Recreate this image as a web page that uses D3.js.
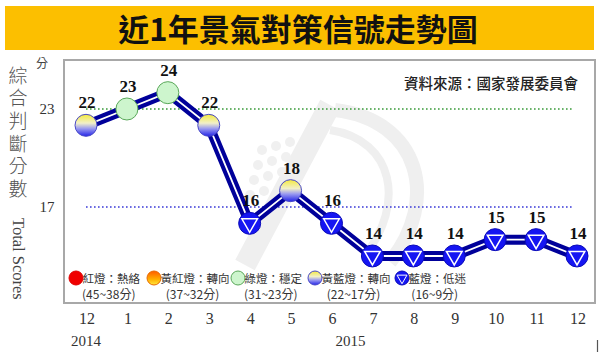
<!DOCTYPE html>
<html><head><meta charset="utf-8">
<script src="https://cdn.jsdelivr.net/npm/d3@7"></script>
<style>
html,body{margin:0;padding:0;background:#fff;}
svg{display:block;}
</style></head>
<body>
<svg id="chart" width="600" height="355"></svg>
<script>
// ---- data ----
const months = ["12","1","2","3","4","5","6","7","8","9","10","11","12"];
const scores = [22,23,24,22,16,18,16,14,14,14,15,15,14];
const lights = ["yb","g","g","yb","b","yb","b","b","b","b","b","b","b"];
const years = [{label:"2014", month:0},{label:"2015", month:6}];
const refLines = [23,17];
const yTicks = [23,17];
const legendNames = ["紅燈：熱絡","黃紅燈：轉向","綠燈：穩定","黃藍燈：轉向","藍燈：低迷"];
const legendRanges = ["(45~38分)","(37~32分)","(31~23分)","(22~17分)","(16~9分)"];
const legendTypes = ["r","yr","g","yb","b"];
const titleText = "近1年景氣對策信號走勢圖";
const sourceText = "資料來源：國家發展委員會";
const yTitleText = "綜合判斷分數";

const svg = d3.select("#chart");
const CJK = "'Noto Sans CJK TC','Noto Sans CJK SC',sans-serif";
const SERIF = "'Liberation Serif','DejaVu Serif',serif";

// gradients
const defs = svg.append("defs");
const gyb = defs.append("linearGradient").attr("id","gyb").attr("x1",0).attr("y1",0).attr("x2",0).attr("y2",1);
gyb.append("stop").attr("offset","0%").attr("stop-color","#f4ea3c");
gyb.append("stop").attr("offset","40%").attr("stop-color","#f2f0c8");
gyb.append("stop").attr("offset","65%").attr("stop-color","#9a9af0");
gyb.append("stop").attr("offset","100%").attr("stop-color","#2222e8");
const gyr = defs.append("linearGradient").attr("id","gyr").attr("x1",0).attr("y1",0).attr("x2",0).attr("y2",1);
gyr.append("stop").attr("offset","0%").attr("stop-color","#ff5a00");
gyr.append("stop").attr("offset","60%").attr("stop-color","#ffb000");
gyr.append("stop").attr("offset","100%").attr("stop-color","#ffe840");

// title bar
svg.append("rect").attr("x",5).attr("y",6).attr("width",589).attr("height",44).attr("fill","#fcbf00");
svg.append("text").attr("x",298).attr("y",41).attr("text-anchor","middle")
  .attr("font-family",CJK).attr("font-weight",700).attr("font-size",31).attr("fill","#111").text(titleText);

// scales
const x = d3.scalePoint().domain(d3.range(months.length)).range([86,577]);
const y = d3.scaleLinear().domain([10,26]).range([321.3,60]);

// watermark
const wm = svg.append("g").attr("fill","none").attr("stroke","#efefef");
wm.append("path").attr("d","M245,265 L330,105").attr("stroke-width",22);
wm.append("path").attr("d","M335,110 C420,120 440,200 390,262").attr("stroke-width",14);
wm.append("path").attr("d","M330,130 C395,140 405,205 365,255").attr("stroke-width",8);
const dots = [[262,150],[276,146],[290,142],[258,165],[272,161],[286,157],[254,180],[268,176],[282,172],[250,195],[264,191]];
svg.append("g").selectAll("circle").data(dots).join("circle")
  .attr("cx",d=>d[0]).attr("cy",d=>d[1]).attr("r",5).attr("fill","#f0f0f0");

// frame
svg.append("rect").attr("x",64).attr("y",60).attr("width",531).attr("height",243)
  .attr("fill","none").attr("stroke","#a8a8a8").attr("stroke-width",2);

// reference lines
svg.selectAll("line.ref").data(refLines).join("line").attr("class","ref")
  .attr("x1",x(0)).attr("x2",x(12)-4).attr("y1",d=>y(d)).attr("y2",d=>y(d))
  .attr("stroke",(d,i)=>i===0?"#3a9a3a":"#3a3ad8").attr("stroke-width",1.6).attr("stroke-dasharray","1.6,2.4");

// y ticks
svg.selectAll("text.yt").data(yTicks).join("text").attr("class","yt")
  .attr("x",47).attr("y",d=>y(d)+5).attr("text-anchor","middle")
  .attr("font-family",SERIF).attr("font-size",15).attr("fill","#333").text(d=>d);
svg.append("text").attr("x",42).attr("y",68).attr("text-anchor","middle")
  .attr("font-family",CJK).attr("font-size",12).attr("fill","#444").text("分");

// y title (vertical)
svg.append("text").attr("x",18).attr("y",66)
  .style("writing-mode","vertical-rl").style("letter-spacing","3.6px")
  .attr("font-family",CJK).attr("font-weight",300).attr("font-size",19).attr("fill","#555").text(yTitleText);
svg.append("text").attr("transform","translate(13,218) rotate(90)")
  .attr("font-family",SERIF).attr("font-size",16.5).attr("fill","#444").text("Total Scores");

// x axis labels
svg.selectAll("text.xt").data(months).join("text").attr("class","xt")
  .attr("x",(d,i)=>x(i)+1).attr("y",324).attr("text-anchor","middle")
  .attr("font-family",SERIF).attr("font-size",16).attr("fill","#333").text(d=>d);
svg.selectAll("text.yr").data(years).join("text").attr("class","yr")
  .attr("x",d=>x(d.month)+(d.month===0?0:19)).attr("y",346).attr("text-anchor","middle")
  .attr("font-family",SERIF).attr("font-size",15).attr("fill","#333").text(d=>d.label);
svg.append("line").attr("x1",597.5).attr("x2",597.5).attr("y1",340).attr("y2",352).attr("stroke","#555").attr("stroke-width",1.2);

// line
const line = d3.line().x((d,i)=>x(i)).y(d=>y(d));
svg.append("path").attr("d",line(scores)).attr("fill","none").attr("stroke","#00009a")
  .attr("stroke-width",10).attr("stroke-linejoin","round");
svg.append("path").attr("d",line(scores)).attr("fill","none").attr("stroke","#ffffff")
  .attr("stroke-width",1.8).attr("stroke-linejoin","round");

// marker drawing
function drawMarker(g, type, r){
  if(type==="b"){
    g.append("circle").attr("r",r).attr("fill","#1515f2").attr("stroke","#0a0ab8").attr("stroke-width",1);
    const k = r*0.82;
    const pts = [[-k*0.866,-k*0.5],[k*0.866,-k*0.5],[0,k]];
    g.append("path").attr("d","M"+pts.map(p=>p.join(",")).join("L")+"Z")
      .attr("fill","none").attr("stroke","#fff").attr("stroke-width",r>8?1.5:1);
  } else if(type==="yb"){
    g.append("circle").attr("r",r).attr("fill","url(#gyb)").attr("stroke","#4848c8").attr("stroke-width",1);
  } else if(type==="g"){
    g.append("circle").attr("r",r).attr("fill","#cdf5cd").attr("stroke","#5aa85a").attr("stroke-width",1);
  } else if(type==="r"){
    g.append("circle").attr("r",r).attr("fill","#f00000").attr("stroke","#e00000").attr("stroke-width",1);
  } else if(type==="yr"){
    g.append("circle").attr("r",r).attr("fill","url(#gyr)").attr("stroke","#e86a00").attr("stroke-width",1);
  }
}

const pts = svg.selectAll("g.pt").data(scores).join("g").attr("class","pt")
  .attr("transform",(d,i)=>`translate(${x(i)},${y(d)})`);
pts.each(function(d,i){ drawMarker(d3.select(this), lights[i], 11); });

// value labels
svg.selectAll("text.vl").data(scores).join("text").attr("class","vl")
  .attr("x",(d,i)=>x(i)+1).attr("y",d=>y(d)-17).attr("text-anchor","middle")
  .attr("font-family",SERIF).attr("font-weight",700).attr("font-size",17).attr("fill","#111").text(d=>d);

// source
svg.append("text").attr("x",578).attr("y",89).attr("text-anchor","end")
  .attr("font-family",CJK).attr("font-weight",500).attr("font-size",14.5).attr("fill","#222").text(sourceText);

// legend
const legX = [76,154,238,315,402];
const leg = svg.selectAll("g.leg").data(legendNames).join("g").attr("class","leg")
  .attr("transform",(d,i)=>`translate(${legX[i]},278)`);
leg.each(function(d,i){
  const g = d3.select(this);
  drawMarker(g, legendTypes[i], 7);
  g.append("text").attr("x",6.5).attr("y",4.5).attr("font-family",CJK).attr("font-size",11.5)
    .attr("fill","#333").text(d);
  const w = g.select("text").node().getComputedTextLength();
  g.append("text").attr("x",4+w/2).attr("y",21).attr("text-anchor","middle")
    .attr("font-family",CJK).attr("font-size",12).attr("fill","#333").text(legendRanges[i]);
});
</script>
</body></html>
